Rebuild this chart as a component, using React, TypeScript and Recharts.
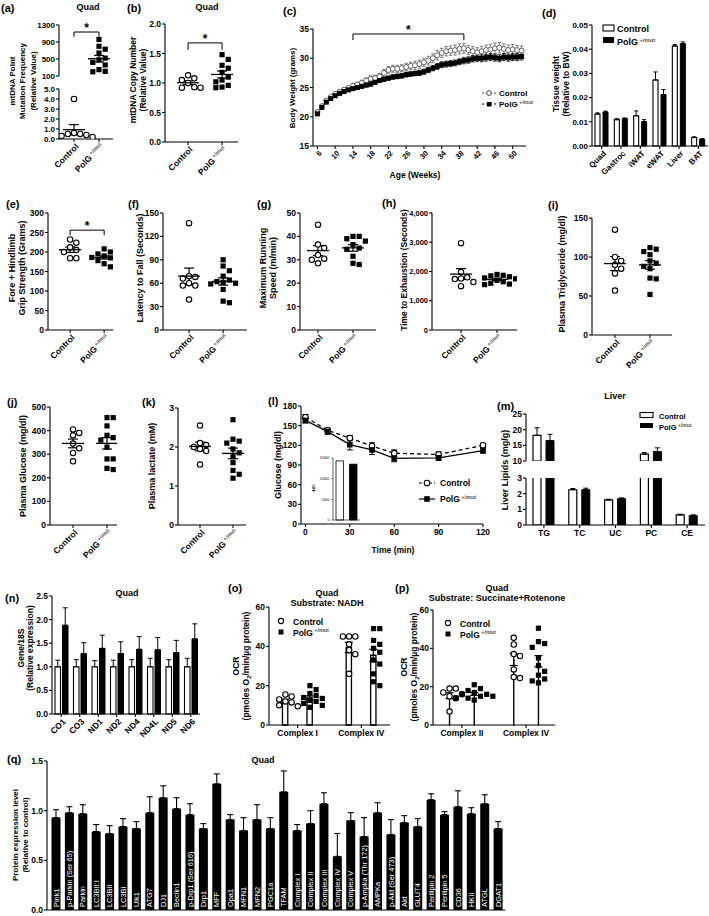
import React from 'react';
import {
  ScatterChart, Scatter, LineChart, Line, BarChart, Bar, ComposedChart,
  XAxis, YAxis, ErrorBar, ReferenceLine, Cell, LabelList,
} from 'recharts';

const FONT = '"Liberation Sans", Arial, Helvetica, sans-serif';

// ---------------- DATA ----------------
const groupLabels = ['Control', 'PolG'];
const supLabel = '+/mut';

// (a) mtDNA point mutation frequency
const mutFreqControl = [4.0, 0.6, 0.5, 0.5, 0.4, 0.3, 0.2];
const mutFreqPolg = [960, 800, 730, 640, 520, 480, 420, 360, 250, 210, 200];
// (b) mtDNA copy number
const copyNumControl = [1.13, 1.08, 1.05, 1.0, 0.93, 0.92, 0.92];
const copyNumPolg = [1.48, 1.40, 1.30, 1.25, 1.18, 1.10, 1.05, 1.02, 0.96, 0.93, 0.92];
// (c) body weight
const ageWeeks = [6, 7, 8, 9, 10, 11, 12, 13, 14, 15, 16, 17, 18, 19, 20, 21, 22, 23, 24, 25, 26, 27, 28, 29, 30, 31, 32, 33, 34, 35, 36, 37, 38, 39, 40, 41, 42, 43, 44, 45, 46, 47, 48, 49, 50, 51, 52];
const ageTicks = [6, 10, 14, 18, 22, 26, 30, 34, 38, 42, 46, 50];
const bwControl = [20.8, 21.8, 22.8, 23.4, 23.9, 24.3, 24.6, 24.9, 25.3, 25.5,
  25.8, 26.2, 26.5, 26.6, 26.9, 27.5, 28.0, 28.2, 28.2, 28.3,
  28.5, 28.7, 28.8, 29.0, 29.3, 29.6, 30.0, 30.5, 30.9, 31.2,
  31.3, 31.4, 31.6, 31.7, 31.4, 31.2, 31.0, 31.2, 31.4, 31.5,
  31.7, 31.8, 31.6, 31.4, 31.5, 31.4, 31.3];
const bwControlSem = [0.3, 0.3, 0.3, 0.3, 0.3, 0.3, 0.35, 0.35, 0.4, 0.4,
  0.45, 0.45, 0.5, 0.5, 0.5, 0.6, 0.6, 0.6, 0.6, 0.6,
  0.65, 0.65, 0.7, 0.7, 0.7, 0.75, 0.75, 0.8, 0.8, 0.8,
  0.8, 0.85, 0.85, 0.85, 0.8, 0.8, 0.8, 0.85, 0.85, 0.9,
  0.9, 0.9, 0.85, 0.85, 0.85, 0.8, 0.8];
const bwPolg = [20.5, 21.6, 22.5, 23.1, 23.6, 24.0, 24.3, 24.6, 24.8, 25.0,
  25.2, 25.4, 25.6, 25.9, 26.2, 26.4, 26.6, 26.8, 26.9, 27.0,
  27.2, 27.3, 27.4, 27.5, 27.7, 28.0, 28.3, 28.6, 28.9, 29.0,
  29.1, 29.2, 29.4, 29.6, 29.7, 29.9, 30.0, 30.0, 30.1, 30.2,
  30.1, 30.0, 30.2, 30.1, 30.2, 30.2, 30.3];
const bwPolgSem = [0.25, 0.25, 0.25, 0.25, 0.25, 0.3, 0.3, 0.3, 0.3, 0.3,
  0.3, 0.3, 0.35, 0.35, 0.35, 0.35, 0.35, 0.4, 0.4, 0.4,
  0.4, 0.4, 0.4, 0.45, 0.45, 0.45, 0.45, 0.5, 0.5, 0.5,
  0.5, 0.5, 0.5, 0.55, 0.55, 0.55, 0.55, 0.6, 0.6, 0.6,
  0.6, 0.6, 0.6, 0.6, 0.6, 0.6, 0.6];
const bwStarRange = [14, 39];
// (d) tissue weight
const tissues = ['Quad', 'Gastroc', 'iWAT', 'eWAT', 'Liver', 'BAT'];
const tissueCtrl = [0.0132, 0.0109, 0.0125, 0.0273, 0.0413, 0.0035];
const tissueCtrlSem = [0.0005, 0.0004, 0.0020, 0.0033, 0.0006, 0.0003];
const tissuePolg = [0.0140, 0.0113, 0.0101, 0.0213, 0.0423, 0.0028];
const tissuePolgSem = [0.0004, 0.0003, 0.0008, 0.0020, 0.0007, 0.0002];
// (e)-(k) dot plots
const gripControl = [232, 224, 212, 205, 200, 184, 184];
const gripPolg = [208, 200, 195, 190, 188, 186, 185, 182, 178, 170, 162];
const latencyControl = [137, 69, 68, 66, 60, 57, 57, 39];
const latencyPolg = [90, 82, 76, 69, 64, 62, 61, 60, 59, 52, 37, 35];
const speedControl = [45, 36.5, 35, 32, 30.5, 30, 28.5];
const speedPolg = [40, 40, 39, 38, 36.5, 35, 34.5, 31.5, 28.5, 28];
const exhaustControl = [2970, 1980, 1800, 1760, 1740, 1640, 1500];
const exhaustPolg = [1900, 1870, 1850, 1820, 1780, 1750, 1700, 1650, 1600, 1570, 1550];
const trigControl = [135, 100, 95, 90, 85, 79, 57];
const trigPolg = [112, 110, 107, 103, 95, 92, 88, 85, 73, 72, 52];
const glucoseControl = [405, 390, 380, 345, 325, 305, 270];
const glucosePolg = [455, 455, 420, 380, 370, 360, 330, 280, 280, 240, 235];
const lactateControl = [2.55, 2.1, 2.05, 2.0, 1.95, 1.9, 1.55];
const lactatePolg = [2.7, 2.2, 2.15, 2.1, 1.95, 1.85, 1.75, 1.6, 1.4, 1.3, 1.2];
// (l) GTT
const gttTimes = [0, 15, 30, 45, 60, 90, 120];
const gttControl = [163, 143, 131, 119, 108, 106, 120];
const gttControlSem = [4, 3, 4, 5, 5, 4, 3];
const gttPolg = [158, 141, 121, 113, 100, 101, 112];
const gttPolgSem = [4, 4, 8, 7, 5, 4, 4];
const aucValues = [14300, 13500];
// (m) liver lipids
const lipids = ['TG', 'TC', 'UC', 'PC', 'CE'];
const lipidCtrl = [18.2, 2.25, 1.6, 12.2, 0.65];
const lipidCtrlSem = [2.4, 0.08, 0.04, 0.5, 0.04];
const lipidPolg = [16.5, 2.25, 1.68, 13.0, 0.6];
const lipidPolgSem = [2.0, 0.1, 0.05, 1.2, 0.05];
// (n) mt genes
const genes = ['CO1', 'CO3', 'ND1', 'ND2', 'ND4', 'ND4L', 'ND5', 'ND6'];
const geneCtrl = [1, 1, 1, 1, 1, 1, 1, 1];
const geneCtrlSem = [0.14, 0.15, 0.13, 0.14, 0.15, 0.18, 0.15, 0.18];
const genePolg = [1.88, 1.28, 1.39, 1.28, 1.37, 1.36, 1.30, 1.59];
const genePolgSem = [0.37, 0.23, 0.28, 0.25, 0.27, 0.26, 0.26, 0.32];
// (o) OCR NADH
const nadhComplexes = ['Complex I', 'Complex IV'];
const nadhCtrlCI = [15.5, 14.5, 13, 12, 11.5, 10, 9.5];
const nadhPolgCI = [20, 18, 16, 15, 14, 13.5, 12.5, 12, 11, 10, 9];
const nadhCtrlCIV = [45, 45, 45, 41, 38, 36, 26];
const nadhPolgCIV = [49, 49, 43, 41, 39, 37, 33, 31, 26, 22, 20];
// (p) OCR succinate
const succComplexes = ['Complex II', 'Complex IV'];
const succCtrlCII = [19, 19, 17, 16, 15, 14, 7];
const succPolgCII = [21, 19, 18, 17, 16, 16, 15, 15, 14, 14, 13];
const succCtrlCIV = [45.5, 42, 37, 36, 29, 25, 24.5];
const succPolgCIV = [50.5, 43.5, 42.5, 40.5, 35, 31, 28, 26, 24, 23, 22];
// (q) proteins
const proteins = ['Pink1', 'p-Parkin (Ser 65)', 'Parkin', 'LC3BII:I', 'LC3BII', 'LC3BI', 'Ulk1', 'ATG7', 'DJ1', 'Beclin1',
  'p-Drp1 (Ser 616)', 'Drp1', 'MFF', 'Opa1', 'MFN1', 'MFN2', 'PGC1a', 'TFAM', 'Complex I', 'Complex II',
  'Complex III', 'Complex IV', 'Complex V', 'p-Ampka (Thr 172)', 'AMPKa', 'p-Akt (Ser 473)', 'Akt', 'GLUT4',
  'Perilipin 2', 'Perilipin 5', 'CD36', 'HKII', 'ATGL', 'DGAT1'];
const proteinMean = [0.93, 0.98, 0.97, 0.79, 0.77, 0.84, 0.82, 0.98, 1.13, 1.02, 0.96, 0.82, 1.27, 0.91, 0.80, 0.91, 0.82, 1.19, 0.80, 0.87, 1.07, 0.54, 0.90, 0.74, 0.98, 0.76, 0.88, 0.84, 1.11, 0.96, 1.04, 0.97, 1.07, 0.82];
const proteinSem = [0.08, 0.06, 0.09, 0.07, 0.08, 0.08, 0.07, 0.16, 0.12, 0.11, 0.11, 0.05, 0.10, 0.05, 0.13, 0.15, 0.11, 0.21, 0.06, 0.13, 0.11, 0.23, 0.08, 0.19, 0.10, 0.15, 0.07, 0.08, 0.06, 0.03, 0.16, 0.06, 0.09, 0.07];

// ---------------- HELPERS ----------------
const mean = (a: number[]) => a.reduce((s, v) => s + v, 0) / a.length;
const sem = (a: number[]) => {
  const m = mean(a);
  const sd = Math.sqrt(a.reduce((s, v) => s + (v - m) * (v - m), 0) / (a.length - 1));
  return sd / Math.sqrt(a.length);
};
// beeswarm offsets (in x-axis units) so that markers do not overlap
function swarm(vals: number[], pxY: number, pxX: number, r = 2.8): number[] {
  const placed: { x: number; y: number }[] = [];
  const order = vals.map((_, i) => i).sort((a, b) => vals[b] - vals[a]);
  const offs = new Array(vals.length).fill(0);
  const d = 2 * r + 0.6;
  for (const i of order) {
    const y = vals[i] * pxY;
    for (let k = 0; k < 40; k++) {
      const cand = k === 0 ? 0 : (k % 2 === 1 ? 1 : -1) * Math.ceil(k / 2) * d;
      if (placed.every((p) => Math.hypot(p.x - cand, p.y - y) >= 2 * r + 0.2)) {
        offs[i] = cand / pxX;
        placed.push({ x: cand, y });
        break;
      }
    }
  }
  return offs;
}

type Geo = { x0: number; x1: number; y0: number; y1: number };
const PT = 12, PR = 12;
function place(g: Geo, pl = 40, pb = 44) {
  return {
    style: { position: 'absolute' as const, left: g.x0 - pl, top: g.y0 - PT },
    width: g.x1 - g.x0 + pl + PR,
    height: g.y1 - g.y0 + PT + pb,
    margin: { top: PT, right: PR, bottom: 0, left: 0 },
    pl, pb,
  };
}
const tickFont = (fs: number) => ({ fontSize: fs, fontWeight: 700, fill: '#000', fontFamily: FONT });
const LINE = { stroke: '#000', strokeWidth: 1.1 };
const TS = 3; // tick size
const TM = 1; // tick margin

const Sup = ({ s = 5 }: { s?: number }) => <tspan fontSize={s} dy={-s * 0.6} fill="#555">{' ' + supLabel}</tspan>;
const groupLabel = (v: number) => (v < 1.5 ? groupLabels[0] : <><tspan>{groupLabels[1]}</tspan><Sup s={5.5} /></>);

function rotTick(labelFor: (v: any) => React.ReactNode, size = 8.5) {
  return (p: any) => (
    <g transform={`translate(${p.x + 3},${p.y + 1})`}>
      <text transform="rotate(-45)" textAnchor="end" dy="0.35em" fontSize={size} fontWeight={700} fontFamily={FONT} fill="#000">
        {labelFor(p.payload.value)}
      </text>
    </g>
  );
}

const OpenCircle = (p: any) => <circle cx={p.cx} cy={p.cy} r={2.7} fill="#fff" stroke="#000" strokeWidth={1.1} />;
const FilledSquare = (p: any) => <rect x={p.cx - 2.6} y={p.cy - 2.6} width={5.2} height={5.2} fill="#000" />;
const MeanLine = (p: any) => <line x1={p.cx - 11} x2={p.cx + 11} y1={p.cy} y2={p.cy} stroke="#000" strokeWidth={1.3} />;

function bracketLines(x1: number, x2: number, y: number, tip: number) {
  return [
    <ReferenceLine key="b0" segment={[{ x: x1, y }, { x: x2, y }]} stroke="#000" strokeWidth={1}
      label={{ value: '*', position: 'top', offset: 0, fontSize: 12, fontWeight: 700, fill: '#000', fontFamily: FONT }} />,
    <ReferenceLine key="b1" segment={[{ x: x1, y }, { x: x1, y: tip }]} stroke="#000" strokeWidth={1} />,
    <ReferenceLine key="b2" segment={[{ x: x2, y }, { x: x2, y: tip }]} stroke="#000" strokeWidth={1} />,
  ];
}

function DotPlot(props: any) {
  const { g, yDomain, yTicks, fmt, xDomain, ctrl, polg, bracket, showX = true, pb = 44, fs = 8.5 } = props;
  const P = place(g, 40, pb);
  const pxY = (g.y1 - g.y0) / (yDomain[1] - yDomain[0]);
  const pxX = (g.x1 - g.x0) / (xDomain[1] - xDomain[0]);
  const groups: { vals: number[]; gx: number; shape: any }[] = [];
  if (ctrl) groups.push({ vals: ctrl, gx: 1, shape: OpenCircle });
  if (polg) groups.push({ vals: polg, gx: 2, shape: FilledSquare });
  return (
    <div style={P.style}>
      <ScatterChart width={P.width} height={P.height} margin={P.margin}>
        <XAxis type="number" dataKey="x" domain={xDomain} ticks={[1, 2]} interval={0} allowDataOverflow height={P.pb}
          axisLine={showX ? LINE : false} tickLine={showX ? LINE : false} tickSize={TS}
          tick={showX ? rotTick(groupLabel, 8.5) : false} />
        <YAxis type="number" dataKey="y" domain={yDomain} ticks={yTicks} interval={0} allowDataOverflow width={P.pl}
          tickFormatter={fmt} tick={tickFont(fs)} axisLine={LINE} tickLine={LINE} tickSize={TS} tickMargin={TM} />
        {bracket ? bracketLines(1, 2, bracket[0], bracket[1]) : null}
        {groups.map((gr, k) => {
          const offs = swarm(gr.vals, pxY, pxX);
          const pts = gr.vals.map((v, i) => ({ x: gr.gx + offs[i], y: v }));
          return <Scatter key={'p' + k} data={pts} shape={gr.shape} isAnimationActive={false} />;
        })}
        {groups.map((gr, k) => (
          <Scatter key={'m' + k} data={[{ x: gr.gx, y: mean(gr.vals), e: sem(gr.vals) }]} shape={MeanLine} isAnimationActive={false}>
            <ErrorBar dataKey="e" direction="y" width={5} stroke="#000" strokeWidth={1.2} />
          </Scatter>
        ))}
      </ScatterChart>
    </div>
  );
}

function GroupedBars(props: any) {
  const { g, cats, ctrl, ctrlSem, polg, polgSem, yDomain, yTicks, fmt, barSize, barGap, pb = 44, capW = 2, fs = 8.5, xfs = 8.5 } = props;
  const P = place(g, 40, pb);
  const rows = cats.map((c: string, i: number) => ({ c, a: ctrl[i], as: [0, ctrlSem[i]], b: polg[i], bs: [0, polgSem[i]] }));
  return (
    <div style={P.style}>
      <BarChart data={rows} width={P.width} height={P.height} margin={P.margin} barGap={barGap} barCategoryGap={0}>
        <XAxis dataKey="c" type="category" interval={0} height={P.pb} axisLine={LINE} tickLine={LINE} tickSize={TS}
          tick={rotTick((v) => v, xfs)} />
        <YAxis type="number" domain={yDomain} ticks={yTicks} interval={0} width={P.pl} tickFormatter={fmt}
          tick={tickFont(fs)} axisLine={LINE} tickLine={LINE} tickSize={TS} tickMargin={TM} />
        <Bar dataKey="a" fill="#fff" stroke="#000" strokeWidth={1.1} barSize={barSize} isAnimationActive={false}>
          <ErrorBar dataKey="as" width={capW} stroke="#000" strokeWidth={1} direction="y" />
        </Bar>
        <Bar dataKey="b" fill="#000" stroke="#000" strokeWidth={1} barSize={barSize} isAnimationActive={false}>
          <ErrorBar dataKey="bs" width={capW} stroke="#000" strokeWidth={1} direction="y" />
        </Bar>
      </BarChart>
    </div>
  );
}

// (m) broken-axis lipid chart
const lipidUpperMin = 10;
const lipidLowerMax = 3;
function LipidSegment(props: any) {
  const { g, upper } = props;
  const P = place(g, 40, upper ? 7 : 22);
  const rows = lipids.map((t, i) => {
    const c = lipidCtrl[i], p = lipidPolg[i];
    if (upper) {
      return {
        t, a: c >= lipidUpperMin ? c : null, b: p >= lipidUpperMin ? p : null,
        as: c >= lipidUpperMin ? [0, lipidCtrlSem[i]] : null, bs: p >= lipidUpperMin ? [0, lipidPolgSem[i]] : null,
      };
    }
    return {
      t, a: c, b: p,
      as: c + lipidCtrlSem[i] <= lipidLowerMax ? [0, lipidCtrlSem[i]] : null,
      bs: p + lipidPolgSem[i] <= lipidLowerMax ? [0, lipidPolgSem[i]] : null,
    };
  });
  return (
    <div style={P.style}>
      <BarChart data={rows} width={P.width} height={P.height} margin={P.margin} barGap={5} barCategoryGap={0}>
        <XAxis dataKey="t" type="category" interval={0} height={P.pb} axisLine={upper ? false : LINE}
          tickLine={upper ? false : LINE} tickSize={TS} tick={upper ? false : tickFont(8.5)} />
        <YAxis type="number" domain={upper ? [10, 25] : [0, 3]} ticks={upper ? [10, 15, 20, 25] : [0, 1, 2, 3]}
          interval={0} width={P.pl} allowDataOverflow tick={tickFont(8.5)} axisLine={LINE} tickLine={LINE} tickSize={TS} tickMargin={TM} />
        <Bar dataKey="a" fill="#fff" stroke="#000" strokeWidth={1.2} barSize={8} isAnimationActive={false}>
          <ErrorBar dataKey="as" width={2.5} stroke="#000" strokeWidth={1} direction="y" />
        </Bar>
        <Bar dataKey="b" fill="#000" stroke="#000" strokeWidth={1} barSize={8} isAnimationActive={false}>
          <ErrorBar dataKey="bs" width={2.5} stroke="#000" strokeWidth={1} direction="y" />
        </Bar>
      </BarChart>
    </div>
  );
}

// (o)/(p) OCR bar + dots
function OcrPanel(props: any) {
  const { g, cats, sets } = props;
  const P = place(g, 40, 24);
  const pos = [1, 2, 3.6, 4.6];
  const xDomain: [number, number] = [0.33, 5.27];
  const pxY = (g.y1 - g.y0) / 60;
  const pxX = (g.x1 - g.x0) / (xDomain[1] - xDomain[0]);
  const rows = sets.map((vals: number[], i: number) => ({ x: pos[i], v: mean(vals), e: sem(vals) }));
  return (
    <div style={P.style}>
      <ComposedChart data={rows} width={P.width} height={P.height} margin={P.margin}>
        <XAxis type="number" dataKey="x" domain={xDomain} ticks={[1.5, 4.1]} interval={0} allowDataOverflow height={P.pb}
          tickFormatter={(v: number) => (v < 3 ? cats[0] : cats[1])} tick={tickFont(8.5)} axisLine={LINE} tickLine={LINE} tickSize={TS} />
        <YAxis type="number" domain={[0, 60]} ticks={[0, 20, 40, 60]} interval={0} width={P.pl}
          tick={tickFont(8.5)} axisLine={LINE} tickLine={LINE} tickSize={TS} tickMargin={TM} />
        <Bar dataKey="v" barSize={16} fill="#fff" stroke="#000" strokeWidth={1.3} isAnimationActive={false}>
          {rows.map((_: any, i: number) => <Cell key={i} fill="#fff" stroke="#000" />)}
          <ErrorBar dataKey="e" width={4} stroke="#000" strokeWidth={1.2} direction="y" />
        </Bar>
        {sets.map((vals: number[], i: number) => {
          const offs = swarm(vals, pxY, pxX);
          const pts = vals.map((v, k) => ({ x: pos[i] + offs[k], y: v }));
          return <Scatter key={i} data={pts} dataKey="y" shape={i % 2 === 0 ? OpenCircle : FilledSquare} isAnimationActive={false} />;
        })}
      </ComposedChart>
    </div>
  );
}

const InBarLabel = (p: any) => {
  const vb = p.viewBox || p;
  const x = vb.x + vb.width / 2 + 2.7;
  const y = vb.y + vb.height - 3;
  return (
    <text transform={`translate(${x},${y}) rotate(-90)`} fill="#fff" fontSize={7.4} fontWeight={400} fontFamily={FONT}>
      {p.value}
    </text>
  );
};

// ---------------- OVERLAY TEXT ----------------
const Txt = ({ x, y, s = 8, a = 'start', children }: any) => (
  <text x={x} y={y} fontSize={s} textAnchor={a} fontWeight={700} fontFamily={FONT} fill="#000">{children}</text>
);
// c = centre of the rotated line (horizontal position)
const VTxt = ({ c, y, s = 8.5, children }: any) => (
  <text transform={`translate(${c + s * 0.36},${y}) rotate(-90)`} fontSize={s} textAnchor="middle" fontWeight={700} fontFamily={FONT} fill="#000">{children}</text>
);

function Overlay() {
  const letters: [string, number, number][] = [
    ['(a)', 1, 12], ['(b)', 127, 12], ['(c)', 283, 15], ['(d)', 542, 17], ['(e)', 6, 208], ['(f)', 128, 208],
    ['(g)', 257, 208], ['(h)', 382, 207], ['(i)', 548, 209], ['(j)', 7, 406], ['(k)', 142, 406], ['(l)', 268, 405],
    ['(m)', 497, 410], ['(n)', 5, 602], ['(o)', 228, 592], ['(p)', 395, 592], ['(q)', 7, 763],
  ];
  const o2 = (
    <>(pmoles O<tspan fontSize={6} dy={2}>2</tspan><tspan dy={-2}>/min/µg protein)</tspan></>
  );
  return (
    <svg width={709} height={916} style={{ position: 'absolute', left: 0, top: 0, pointerEvents: 'none' }}>
      {letters.map(([t, x, y]) => <Txt key={t} x={x} y={y} s={11}>{t}</Txt>)}
      {/* titles */}
      <Txt x={88} y={10} s={9} a="middle">Quad</Txt>
      <Txt x={207} y={10} s={9} a="middle">Quad</Txt>
      <Txt x={615} y={399} s={9} a="middle">Liver</Txt>
      <Txt x={127} y={596} s={9} a="middle">Quad</Txt>
      <Txt x={327} y={596} s={9} a="middle">Quad</Txt>
      <Txt x={327} y={606} s={9} a="middle">Substrate: NADH</Txt>
      <Txt x={497} y={591} s={9} a="middle">Quad</Txt>
      <Txt x={497} y={601} s={9} a="middle">Substrate: Succinate+Rotenone</Txt>
      <Txt x={263} y={763} s={9} a="middle">Quad</Txt>
      {/* axis titles */}
      <VTxt c={12} y={81} s={8}>mtDNA Point</VTxt>
      <VTxt c={22.5} y={81} s={8}>Mutation Frequency</VTxt>
      <VTxt c={33} y={81} s={8}>(Relative Value)</VTxt>
      <VTxt c={133} y={80}>mtDNA Copy Number</VTxt>
      <VTxt c={143} y={80}>(Relative Value)</VTxt>
      <VTxt c={292} y={88} s={8}>Body  Weight (grams)</VTxt>
      <Txt x={415} y={178} s={8.5} a="middle">Age (Weeks)</Txt>
      <VTxt c={556} y={84}>Tissue weight</VTxt>
      <VTxt c={566} y={84}>(Relative to BW)</VTxt>
      <VTxt c={12} y={268} s={9}>Fore + Hindlimb</VTxt>
      <VTxt c={22} y={268} s={9}>Grip Strength (Grams)</VTxt>
      <VTxt c={140} y={268} s={9}>Latency to Fall (Seconds)</VTxt>
      <VTxt c={263} y={268} s={9}>Maximum  Running</VTxt>
      <VTxt c={273} y={268} s={9}>Speed (m/min)</VTxt>
      <VTxt c={404} y={270}>Time to Exhaustion (Seconds)</VTxt>
      <VTxt c={562} y={274} s={9}>Plasma Triglyceride (mg/dl)</VTxt>
      <VTxt c={23} y={466} s={9}>Plasma Glucose (mg/dl)</VTxt>
      <VTxt c={152} y={466} s={9}>Plasma lactate (mM)</VTxt>
      <VTxt c={278} y={465} s={9}>Glucose (mg/dl)</VTxt>
      <Txt x={393} y={553} s={8.5} a="middle">Time (min)</Txt>
      <VTxt c={505} y={470} s={9}>Liver Lipids (mg/g)</VTxt>
      <VTxt c={21} y={648}>Gene/18S</VTxt>
      <VTxt c={30} y={648}>(Relative expression)</VTxt>
      <VTxt c={236} y={666}>OCR</VTxt>
      <VTxt c={246} y={666}>{o2}</VTxt>
      <VTxt c={404} y={667}>OCR</VTxt>
      <VTxt c={414} y={667}>{o2}</VTxt>
      <VTxt c={15} y={835} s={8}>Protein expression level</VTxt>
      <VTxt c={25} y={835} s={8}>(Relative to control)</VTxt>
      <VTxt c={314} y={488} s={3.5}>AUC</VTxt>
      {/* legend (c) */}
      <line x1={482} x2={496} y1={93} y2={93} stroke="#444" strokeWidth={1} strokeDasharray="2 2" />
      <circle cx={489} cy={93} r={2.4} fill="#fff" stroke="#444" strokeWidth={1} />
      <Txt x={499} y={96} s={8}>Control</Txt>
      <line x1={482} x2={496} y1={104} y2={104} stroke="#000" strokeWidth={1} strokeDasharray="2 2" />
      <rect x={487} y={102} width={4.5} height={4.5} fill="#000" />
      <Txt x={499} y={107} s={8}>PolG<Sup s={5.2} /></Txt>
      {/* legend (d) */}
      <rect x={603} y={25} width={11} height={6} fill="#fff" stroke="#000" strokeWidth={1.1} />
      <Txt x={617} y={32} s={9}>Control</Txt>
      <rect x={603} y={37} width={11} height={6} fill="#000" />
      <Txt x={617} y={45} s={9}>PolG<Sup s={5.8} /></Txt>
      {/* legend (l) */}
      <line x1={419} x2={435} y1={483} y2={483} stroke="#000" strokeWidth={1.2} strokeDasharray="3 2" />
      <circle cx={427} cy={483} r={2.8} fill="#fff" stroke="#000" strokeWidth={1.1} />
      <Txt x={440} y={486} s={8.5}>Control</Txt>
      <line x1={419} x2={435} y1={499} y2={499} stroke="#000" strokeWidth={1.2} />
      <rect x={424.2} y={496.2} width={5.6} height={5.6} fill="#000" />
      <Txt x={440} y={502} s={8.5}>PolG<Sup s={5.5} /></Txt>
      {/* legend (m) */}
      <rect x={640} y={412.5} width={13} height={5} fill="#fff" stroke="#000" strokeWidth={1.1} />
      <Txt x={659} y={419} s={7.5}>Control</Txt>
      <rect x={640} y={423} width={13} height={5} fill="#000" />
      <Txt x={659} y={430} s={7.5}>PolG<Sup s={5} /></Txt>
      {/* legend (o) */}
      <circle cx={281} cy={621} r={2.6} fill="#fff" stroke="#000" strokeWidth={1.1} />
      <Txt x={293} y={624.5} s={8.5}>Control</Txt>
      <rect x={278.5} y={629.5} width={5} height={5} fill="#000" />
      <Txt x={293} y={635.5} s={8.5}>PolG<Sup s={5.4} /></Txt>
      {/* legend (p) */}
      <circle cx={448} cy={623} r={2.6} fill="#fff" stroke="#000" strokeWidth={1.1} />
      <Txt x={460} y={626.5} s={8.5}>Control</Txt>
      <rect x={445.5} y={631.5} width={5} height={5} fill="#000" />
      <Txt x={460} y={637.5} s={8.5}>PolG<Sup s={5.4} /></Txt>
    </svg>
  );
}

// ---------------- PANELS ----------------
function BodyWeight() {
  const g = { x0: 313, x1: 526, y0: 29, y1: 146 };
  const P = place(g, 40, 24);
  const rows = ageWeeks.map((w, i) => ({ w, c: bwControl[i], ce: bwControlSem[i], p: bwPolg[i], pe: bwPolgSem[i] }));
  return (
    <div style={P.style}>
      <LineChart data={rows} width={P.width} height={P.height} margin={P.margin}>
        <XAxis type="number" dataKey="w" domain={[5, 53]} ticks={ageTicks} interval={0} height={P.pb}
          tick={rotTick((v) => String(v), 7.5)} axisLine={LINE} tickLine={LINE} tickSize={TS} />
        <YAxis type="number" domain={[15, 35]} ticks={[15, 20, 25, 30, 35]} interval={0} width={P.pl}
          tick={tickFont(8.5)} axisLine={LINE} tickLine={LINE} tickSize={TS} tickMargin={TM} />
        {bracketLines(bwStarRange[0], bwStarRange[1], 34.15, 33.1)}
        <Line dataKey="c" stroke="#777" strokeWidth={0.8} isAnimationActive={false}
          dot={(p: any) => <circle key={'c' + p.index} cx={p.cx} cy={p.cy} r={2.5} fill="#fff" stroke="#555" strokeWidth={0.9} />}>
          <ErrorBar dataKey="ce" width={1.8} stroke="#666" strokeWidth={0.8} direction="y" />
        </Line>
        <Line dataKey="p" stroke="#000" strokeWidth={0.8} isAnimationActive={false}
          dot={(p: any) => <rect key={'p' + p.index} x={p.cx - 2.5} y={p.cy - 2.5} width={5} height={5} fill="#000" />}>
          <ErrorBar dataKey="pe" width={1.8} stroke="#000" strokeWidth={0.8} direction="y" />
        </Line>
      </LineChart>
    </div>
  );
}

function Gtt() {
  const g = { x0: 301, x1: 483, y0: 406, y1: 524 };
  const P = place(g, 40, 22);
  const rows = gttTimes.map((t, i) => ({ t, c: gttControl[i], ce: gttControlSem[i], p: gttPolg[i], pe: gttPolgSem[i] }));
  return (
    <div style={P.style}>
      <LineChart data={rows} width={P.width} height={P.height} margin={P.margin}>
        <XAxis type="number" dataKey="t" domain={[-3, 120]} ticks={[0, 30, 60, 90, 120]} interval={0} height={P.pb}
          tick={tickFont(8.5)} axisLine={LINE} tickLine={LINE} tickSize={TS} />
        <YAxis type="number" domain={[0, 180]} ticks={[0, 30, 60, 90, 120, 150, 180]} interval={0} width={P.pl}
          tick={tickFont(8.5)} axisLine={LINE} tickLine={LINE} tickSize={TS} tickMargin={TM} />
        <Line dataKey="c" stroke="#000" strokeWidth={1.3} strokeDasharray="4 3" isAnimationActive={false}
          dot={(p: any) => <circle key={'c' + p.index} cx={p.cx} cy={p.cy} r={2.8} fill="#fff" stroke="#000" strokeWidth={1.1} />}>
          <ErrorBar dataKey="ce" width={3} stroke="#000" strokeWidth={1} direction="y" />
        </Line>
        <Line dataKey="p" stroke="#000" strokeWidth={1.3} isAnimationActive={false}
          dot={(p: any) => <rect key={'p' + p.index} x={p.cx - 2.8} y={p.cy - 2.8} width={5.6} height={5.6} fill="#000" />}>
          <ErrorBar dataKey="pe" width={3} stroke="#000" strokeWidth={1} direction="y" />
        </Line>
      </LineChart>
    </div>
  );
}

function AucInset() {
  const g = { x0: 333, x1: 360, y0: 458, y1: 520 };
  const P = place(g, 16, 3);
  const rows = groupLabels.map((gname, i) => ({ gname, v: aucValues[i] }));
  const tk = { fontSize: 3.5, fill: '#000', fontFamily: FONT };
  return (
    <div style={P.style}>
      <BarChart data={rows} width={P.width} height={P.height} margin={P.margin} barCategoryGap={0}>
        <XAxis dataKey="gname" type="category" height={P.pb} tick={false} tickLine={false} axisLine={{ stroke: '#000', strokeWidth: 0.6 }} />
        <YAxis type="number" domain={[0, 15000]} ticks={[0, 5000, 10000, 15000]} interval={0} width={P.pl}
          tick={tk} axisLine={{ stroke: '#000', strokeWidth: 0.6 }} tickLine={{ stroke: '#000', strokeWidth: 0.6 }} tickSize={1.5} />
        <Bar dataKey="v" barSize={7.5} stroke="#000" strokeWidth={0.8} isAnimationActive={false}>
          {rows.map((_, i) => <Cell key={i} fill={i === 0 ? '#fff' : '#000'} />)}
        </Bar>
      </BarChart>
    </div>
  );
}

function Proteins() {
  const g = { x0: 47, x1: 505, y0: 761, y1: 910 };
  const P = place(g, 40, 6);
  const rows = proteins.map((name, i) => ({ name, v: proteinMean[i], e: [0, proteinSem[i]] }));
  return (
    <div style={P.style}>
      <BarChart data={rows} width={P.width} height={P.height} margin={P.margin} barCategoryGap={0}>
        <XAxis dataKey="name" type="category" interval={0} height={P.pb} padding={{ left: 2.5, right: 0 }}
          tick={false} axisLine={LINE} tickLine={LINE} tickSize={TS} />
        <YAxis type="number" domain={[0, 1.5]} ticks={[0, 0.5, 1, 1.5]} interval={0} width={P.pl}
          tickFormatter={(v: number) => v.toFixed(1)} tick={tickFont(8.5)} axisLine={LINE} tickLine={LINE} tickSize={TS} tickMargin={TM} />
        <Bar dataKey="v" fill="#000" barSize={9} isAnimationActive={false}>
          <ErrorBar dataKey="e" width={3} stroke="#000" strokeWidth={1.1} direction="y" />
          <LabelList dataKey="name" content={InBarLabel} />
        </Bar>
      </BarChart>
    </div>
  );
}

const f1 = (v: number) => v.toFixed(1);

export default function App() {
  return (
    <div style={{ position: 'absolute', left: 0, top: 0, width: 709, height: 916, background: '#fff', fontFamily: FONT, overflow: 'hidden' }}>
      {/* (a) broken axis */}
      <DotPlot g={{ x0: 59, x1: 113, y0: 25, y1: 76 }} yDomain={[100, 1300]} yTicks={[100, 500, 900, 1300]}
        xDomain={[0.4, 2.56]} polg={mutFreqPolg} showX={false} pb={6} bracket={[1135, 1020]} fs={8} />
      <DotPlot g={{ x0: 59, x1: 113, y0: 89, y1: 139 }} yDomain={[0, 5]} yTicks={[0, 1, 2, 3, 4, 5]} fmt={f1}
        xDomain={[0.4, 2.56]} ctrl={mutFreqControl} fs={8} />
      {/* (b) */}
      <DotPlot g={{ x0: 165, x1: 238, y0: 24, y1: 142 }} yDomain={[0, 2]} yTicks={[0, 0.5, 1, 1.5, 2]} fmt={f1}
        xDomain={[0.32, 2.47]} ctrl={copyNumControl} polg={copyNumPolg} bracket={[1.68, 1.56]} fs={8.5} />
      {/* (c) */}
      <BodyWeight />
      {/* (d) */}
      <GroupedBars g={{ x0: 592, x1: 708, y0: 25, y1: 146 }} cats={tissues} ctrl={tissueCtrl} ctrlSem={tissueCtrlSem}
        polg={tissuePolg} polgSem={tissuePolgSem} yDomain={[0, 0.05]} yTicks={[0, 0.01, 0.02, 0.03, 0.04, 0.05]}
        fmt={(v: number) => v.toFixed(2)} barSize={5} barGap={3} capW={2} pb={40} fs={8} xfs={8} />
      {/* (e)-(i) */}
      <DotPlot g={{ x0: 48, x1: 113, y0: 213, y1: 330 }} yDomain={[0, 300]} yTicks={[0, 50, 100, 150, 200, 250, 300]}
        xDomain={[0.35, 2.26]} ctrl={gripControl} polg={gripPolg} bracket={[256, 243]} fs={8.5} />
      <DotPlot g={{ x0: 163, x1: 247, y0: 213, y1: 330 }} yDomain={[0, 150]} yTicks={[0, 30, 60, 90, 120, 150]}
        xDomain={[0.235, 2.7]} ctrl={latencyControl} polg={latencyPolg} fs={8.5} />
      <DotPlot g={{ x0: 300, x1: 376, y0: 213, y1: 330 }} yDomain={[0, 50]} yTicks={[0, 10, 20, 30, 40, 50]}
        xDomain={[0.486, 2.657]} ctrl={speedControl} polg={speedPolg} fs={8.5} />
      <DotPlot g={{ x0: 432, x1: 517, y0: 213, y1: 330 }} yDomain={[0, 4000]} yTicks={[0, 1000, 2000, 3000, 4000]}
        fmt={(v: number) => v.toLocaleString('en-US')} xDomain={[0.194, 2.556]} ctrl={exhaustControl} polg={exhaustPolg} fs={7.5} />
      <DotPlot g={{ x0: 592, x1: 672, y0: 218, y1: 335 }} yDomain={[0, 150]} yTicks={[0, 50, 100, 150]}
        xDomain={[0.343, 2.629]} ctrl={trigControl} polg={trigPolg} fs={8.5} />
      {/* (j) (k) */}
      <DotPlot g={{ x0: 50, x1: 117, y0: 407, y1: 525 }} yDomain={[0, 500]} yTicks={[0, 100, 200, 300, 400, 500]}
        xDomain={[0.324, 2.294]} ctrl={glucoseControl} polg={glucosePolg} fs={8.5} />
      <DotPlot g={{ x0: 178, x1: 246, y0: 408, y1: 525 }} yDomain={[0, 3]} yTicks={[0, 1, 2, 3]}
        xDomain={[0.333, 2.394]} ctrl={lactateControl} polg={lactatePolg} fs={8.5} />
      {/* (l) */}
      <Gtt />
      <AucInset />
      {/* (m) */}
      <LipidSegment g={{ x0: 526, x1: 705, y0: 414, y1: 461 }} upper />
      <LipidSegment g={{ x0: 526, x1: 705, y0: 478, y1: 525 }} />
      {/* (n) */}
      <GroupedBars g={{ x0: 52, x1: 200, y0: 596, y1: 714 }} cats={genes} ctrl={geneCtrl} ctrlSem={geneCtrlSem}
        polg={genePolg} polgSem={genePolgSem} yDomain={[0, 2.5]} yTicks={[0, 0.5, 1, 1.5, 2, 2.5]} fmt={f1}
        barSize={5.5} barGap={2} capW={2.5} pb={40} fs={8.5} xfs={8.5} />
      {/* (o) (p) */}
      <OcrPanel g={{ x0: 269, x1: 390, y0: 607, y1: 725 }} cats={nadhComplexes}
        sets={[nadhCtrlCI, nadhPolgCI, nadhCtrlCIV, nadhPolgCIV]} />
      <OcrPanel g={{ x0: 433, x1: 555, y0: 610, y1: 725 }} cats={succComplexes}
        sets={[succCtrlCII, succPolgCII, succCtrlCIV, succPolgCIV]} />
      {/* (q) */}
      <Proteins />
      <Overlay />
    </div>
  );
}
